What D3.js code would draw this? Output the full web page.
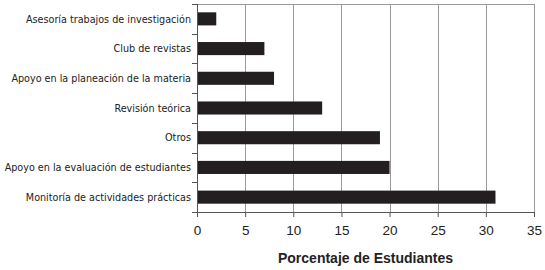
<!DOCTYPE html>
<html>
<head>
<meta charset="utf-8">
<script src="https://cdn.jsdelivr.net/npm/d3@7"></script>
<style>
  body { margin: 0; background: #fff; }
  .cat text { font-family: "DejaVu Sans Condensed", "Liberation Sans Narrow", sans-serif; font-size: 10.7px; fill: #222; }
  .xax text { font-family: "Liberation Sans", Arial, sans-serif; font-size: 13.5px; fill: #222; }
</style>
</head>
<body>
<svg id="chart" width="545" height="270"></svg>
<script>
// actividades (top to bottom) and porcentaje de estudiantes
const categories = [
    'Asesoría trabajos de investigación',
    'Club de revistas',
    'Apoyo en la planeación de la materia',
    'Revisión teórica',
    'Otros',
    'Apoyo en la evaluación de estudiantes',
    'Monitoría de actividades prácticas'
];
const values = [2, 7, 8, 13, 19, 20, 31];
const x_ticks = [0, 5, 10, 15, 20, 25, 30, 35];
const x_title = 'Porcentaje de Estudiantes';

const svg = d3.select('svg#chart');
const pLeft = 197, pRight = 534, pTop = 4, pBottom = 212;

let x = d3.scaleLinear().domain([0, 35]).range([pLeft, pRight]);
let y = d3.scaleBand().domain(categories).range([pTop, pBottom]).paddingInner(0.56).paddingOuter(0.28);

// vertical gridlines
svg.append('g').selectAll('line')
    .data(x_ticks.slice(1))
    .enter()
    .append('line')
    .attr('x1', d => Math.round(x(d)) + 0.5).attr('x2', d => Math.round(x(d)) + 0.5)
    .attr('y1', pTop).attr('y2', pBottom)
    .style('stroke', '#9a9a9a').style('stroke-width', 1);
// top border
svg.append('line')
    .attr('x1', pLeft).attr('x2', pRight).attr('y1', pTop + 0.5).attr('y2', pTop + 0.5)
    .style('stroke', '#9a9a9a');

// bars
svg.append('g').selectAll('rect')
    .data(values)
    .enter()
    .append('rect')
    .attr('x', x(0))
    .attr('y', (d, i) => y(categories[i]))
    .attr('width', d => x(d) - x(0))
    .attr('height', y.bandwidth())
    .style('fill', '#231f20');

// x axis
let xAxis = svg.append('g')
    .attr('class', 'xax')
    .attr('transform', 'translate(0,' + pBottom + ')')
    .call(d3.axisBottom(x).tickValues(x_ticks).tickSize(5).tickPadding(8).tickSizeOuter(0));
xAxis.select('.domain').style('stroke', '#555');
xAxis.selectAll('.tick line').style('stroke', '#555');

// y axis: ticks at category boundaries
let step = (pBottom - pTop) / categories.length;
let yAx = svg.append('g').attr('class', 'cat');
yAx.append('line')
    .attr('x1', pLeft + 0.5).attr('x2', pLeft + 0.5).attr('y1', pTop).attr('y2', pBottom + 5)
    .style('stroke', '#555');
yAx.selectAll('line.tk')
    .data(d3.range(categories.length + 1))
    .enter()
    .append('line')
    .attr('class', 'tk')
    .attr('x1', pLeft - 5).attr('x2', pLeft)
    .attr('y1', i => Math.round(pTop + i * step) + 0.5)
    .attr('y2', i => Math.round(pTop + i * step) + 0.5)
    .style('stroke', '#555');
yAx.selectAll('text')
    .data(categories)
    .enter()
    .append('text')
    .attr('x', pLeft - 6)
    .attr('y', d => y(d) + y.bandwidth() / 2)
    .attr('dy', '0.35em')
    .attr('text-anchor', 'end')
    .text(d => d);

// axis title
svg.append('text')
    .attr('x', x(17.5))
    .attr('y', 263)
    .attr('text-anchor', 'middle')
    .style('font-family', '"Liberation Sans", Arial, sans-serif')
    .style('font-size', '14px')
    .style('font-weight', 'bold')
    .style('fill', '#222')
    .text(x_title);
</script>
</body>
</html>
